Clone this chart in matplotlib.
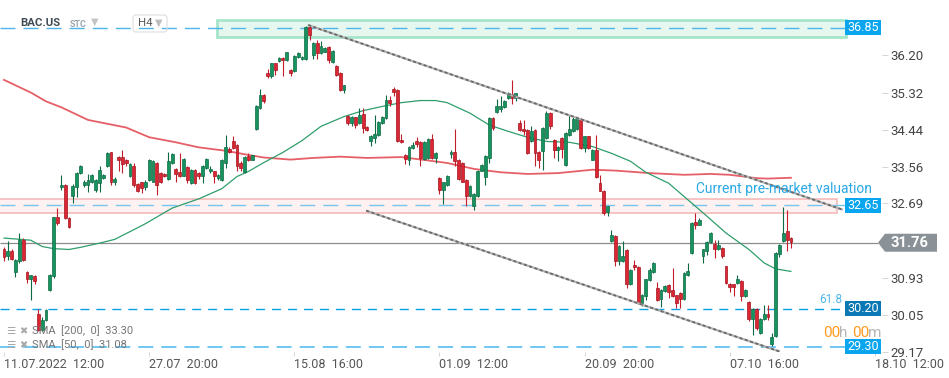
import matplotlib
matplotlib.use("Agg")
import matplotlib.pyplot as plt
from matplotlib.patches import Rectangle, Polygon, FancyBboxPatch
from matplotlib.transforms import IdentityTransform
import numpy as np

plt.rcParams['font.family'] = ['Roboto', 'DejaVu Sans']
plt.rcParams['lines.scale_dashes'] = False

# ---------------- data ----------------
opens = [31.60, 31.44, 31.57, 31.06, 31.32, 31.82, 31.07, 30.90, 30.98, 30.06,
         29.70, 29.94, 30.65, 30.96, 32.37, 33.08, 33.13, 32.35, 32.86, 33.07,
         33.41, 33.13, 33.13, 33.21, 33.02, 33.17, 33.29, 33.57, 33.90, 33.21,
         33.78, 33.79, 33.73, 33.33, 33.58, 33.16, 33.19, 33.09, 33.25, 33.21,
         33.65, 33.41, 33.39, 33.27, 33.65, 33.51, 33.43, 33.35, 33.55, 33.17,
         33.49, 33.41, 33.33, 33.53, 33.45, 33.45, 33.29, 33.25, 33.65, 33.98,
         34.18, 34.07, 33.65, 33.43, 33.82, 33.73, 34.45, 34.96, 35.26, 35.78,
         35.71, 36.01, 36.07, 36.15, 36.09, 35.86, 35.82, 36.17, 36.11, 36.11,
         36.87, 36.20, 36.49, 36.25, 36.29, 36.41, 36.05, 35.95, 35.78, 35.37,
         34.77, 34.59, 34.73, 34.59, 34.81, 34.50, 34.16, 34.24, 34.32, 34.59,
         34.71, 35.15, 35.40, 35.38, 34.20, 33.84, 33.73, 34.00, 34.16, 34.14,
         33.74, 33.77, 34.22, 33.77, 33.29, 33.00, 33.13, 33.86, 33.92, 33.73,
         33.65, 33.25, 32.86, 32.62, 32.87, 33.47, 33.32, 33.77, 34.71, 34.85,
         34.93, 34.97, 35.19, 35.29, 35.19, 34.59, 34.46, 34.44, 34.16, 34.44,
         33.92, 33.94, 34.24, 34.83, 34.20, 33.96, 34.24, 33.61, 34.32, 34.40,
         34.45, 34.69, 34.00, 34.28, 33.73, 33.96, 33.17, 32.99, 32.48, 31.79,
         31.93, 31.32, 31.32, 31.58, 30.77, 31.24, 31.19, 30.32, 30.49, 30.87,
         31.07, 30.69, 30.43, 30.61, 30.76, 30.63, 30.51, 30.57, 30.43, 31.00,
         31.52, 32.24, 32.19, 31.44, 31.56, 31.77, 31.74, 31.60, 31.64, 31.20,
         30.79, 30.77, 30.81, 30.85, 30.49, 30.36, 29.95, 30.19, 29.62, 29.95,
         30.06, 29.35, 29.54, 31.50, 31.79, 32.03, 31.87]
highs = [31.67, 31.79, 31.60, 31.38, 31.99, 31.87, 31.08, 31.00, 31.00, 30.18,
         30.00, 30.19, 31.02, 32.38, 32.58, 33.37, 33.15, 32.37, 33.16, 33.43,
         33.60, 33.25, 33.39, 33.39, 33.26, 33.57, 33.38, 33.92, 33.92, 33.31,
         33.81, 33.96, 33.75, 33.65, 33.66, 33.18, 33.21, 33.25, 33.75, 33.73,
         33.67, 33.43, 33.41, 33.91, 33.89, 33.53, 33.88, 33.76, 33.57, 33.51,
         33.51, 33.43, 33.61, 33.76, 33.59, 33.47, 33.39, 33.75, 34.32, 34.04,
         34.28, 34.09, 33.70, 33.81, 33.88, 33.84, 35.02, 35.40, 35.28, 35.87,
         36.03, 36.03, 36.17, 36.17, 36.29, 35.88, 36.21, 36.27, 36.18, 36.89,
         36.92, 36.51, 36.57, 36.53, 36.39, 36.43, 36.33, 35.97, 35.80, 35.51,
         34.79, 34.77, 34.75, 34.95, 34.95, 34.52, 34.31, 34.79, 34.64, 34.76,
         35.26, 35.23, 35.45, 35.40, 34.34, 33.86, 34.06, 34.14, 34.26, 34.16,
         34.16, 34.24, 34.34, 33.90, 33.31, 33.21, 33.37, 33.96, 34.45, 33.75,
         33.67, 33.27, 33.13, 32.94, 33.49, 33.62, 33.84, 34.73, 34.73, 35.16,
         35.23, 35.14, 35.34, 35.62, 35.32, 34.67, 34.67, 34.46, 34.52, 34.46,
         33.94, 34.51, 34.89, 34.85, 34.22, 34.06, 34.26, 34.38, 34.79, 34.75,
         34.73, 34.71, 34.30, 34.30, 33.98, 34.32, 33.37, 33.01, 32.64, 32.05,
         31.95, 31.71, 31.79, 31.60, 31.13, 31.34, 31.21, 30.54, 30.91, 31.16,
         31.30, 30.82, 30.67, 30.75, 30.78, 31.16, 30.53, 30.59, 31.06, 31.28,
         32.25, 32.46, 32.35, 31.62, 31.79, 32.01, 31.83, 31.83, 31.66, 31.22,
         30.81, 30.79, 31.00, 30.87, 30.67, 30.38, 30.21, 30.21, 29.97, 30.29,
         30.29, 29.62, 31.54, 31.72, 32.61, 32.54, 31.89]
lows = [31.32, 31.36, 31.35, 30.95, 31.28, 31.32, 30.81, 30.41, 30.77, 29.66,
        29.66, 29.90, 30.62, 30.93, 32.19, 33.02, 32.33, 32.11, 32.70, 32.85,
        33.39, 33.09, 32.96, 33.18, 32.97, 32.96, 33.27, 33.55, 33.13, 33.13,
        33.45, 33.41, 33.57, 33.31, 33.09, 32.96, 32.95, 33.02, 33.22, 33.20,
        32.90, 33.17, 33.31, 33.25, 33.62, 33.21, 33.31, 33.33, 33.17, 33.15,
        33.15, 33.27, 33.17, 33.51, 33.41, 33.17, 33.25, 33.23, 33.53, 33.88,
        33.99, 33.45, 33.45, 33.41, 33.69, 33.71, 34.42, 34.94, 35.07, 35.66,
        35.66, 35.74, 36.05, 35.70, 36.07, 35.70, 35.80, 36.15, 36.09, 36.09,
        36.57, 36.11, 36.11, 36.23, 36.27, 36.01, 36.01, 35.72, 35.35, 35.32,
        34.55, 34.52, 34.48, 34.57, 34.37, 34.40, 34.06, 34.12, 34.30, 34.57,
        34.69, 35.00, 35.23, 34.14, 34.12, 33.63, 33.61, 33.98, 34.04, 33.57,
        33.72, 33.75, 33.75, 33.65, 32.92, 32.68, 33.11, 33.77, 33.57, 33.25,
        33.19, 32.62, 32.84, 32.53, 32.85, 33.45, 33.12, 33.65, 34.44, 34.83,
        34.85, 34.95, 35.17, 35.05, 35.11, 34.40, 34.32, 33.86, 34.14, 33.57,
        33.54, 33.49, 34.22, 34.45, 33.77, 33.69, 33.77, 33.59, 34.30, 34.38,
        34.43, 33.98, 33.92, 33.98, 33.71, 33.29, 32.98, 32.41, 32.39, 31.77,
        31.20, 31.24, 31.30, 30.69, 30.75, 31.12, 30.31, 30.25, 30.41, 30.85,
        31.05, 30.39, 30.24, 30.59, 30.45, 30.47, 30.22, 30.22, 30.41, 30.98,
        31.50, 32.09, 32.17, 31.28, 31.48, 31.75, 31.40, 31.58, 31.40, 30.79,
        30.59, 30.49, 30.79, 30.37, 30.47, 29.90, 29.58, 29.70, 29.60, 29.93,
        29.94, 29.31, 29.52, 31.42, 31.77, 31.56, 31.64]
closes = [31.42, 31.57, 31.37, 31.36, 31.83, 31.34, 30.89, 30.99, 30.85, 29.70,
          29.94, 30.16, 30.99, 32.37, 32.23, 33.13, 32.35, 32.13, 33.11, 33.41,
          33.57, 33.20, 33.25, 33.36, 33.24, 33.49, 33.36, 33.88, 33.21, 33.27,
          33.73, 33.63, 33.65, 33.63, 33.13, 32.98, 33.06, 33.21, 33.73, 33.69,
          33.13, 33.21, 33.33, 33.69, 33.87, 33.39, 33.33, 33.74, 33.25, 33.49,
          33.17, 33.33, 33.59, 33.74, 33.51, 33.33, 33.37, 33.73, 34.02, 33.90,
          34.01, 33.58, 33.53, 33.79, 33.73, 33.83, 35.00, 35.26, 35.12, 35.71,
          36.01, 35.86, 36.15, 36.08, 36.27, 35.79, 36.19, 36.25, 36.16, 36.87,
          36.69, 36.49, 36.25, 36.43, 36.37, 36.08, 36.31, 35.74, 35.37, 35.49,
          34.59, 34.75, 34.55, 34.79, 34.48, 34.42, 34.29, 34.34, 34.62, 34.74,
          35.15, 35.08, 35.34, 34.16, 34.14, 33.74, 34.04, 34.08, 34.10, 33.77,
          34.14, 34.22, 33.77, 33.88, 33.00, 33.19, 33.33, 33.91, 33.69, 33.27,
          33.21, 32.86, 33.11, 32.92, 33.47, 33.60, 33.82, 34.71, 34.48, 35.00,
          35.00, 35.12, 35.30, 35.18, 35.30, 34.44, 34.40, 33.88, 34.40, 33.88,
          33.73, 34.49, 34.83, 34.52, 33.96, 34.04, 33.99, 34.36, 34.45, 34.70,
          34.71, 34.00, 34.28, 34.00, 33.96, 33.31, 32.99, 32.46, 32.62, 31.95,
          31.32, 31.69, 31.45, 30.77, 31.11, 31.19, 30.33, 30.52, 30.89, 31.11,
          31.28, 30.41, 30.65, 30.73, 30.59, 30.49, 30.33, 30.43, 31.04, 31.08,
          32.23, 32.19, 32.31, 31.60, 31.77, 31.99, 31.60, 31.71, 31.45, 30.81,
          30.71, 30.71, 30.89, 30.49, 30.65, 29.95, 30.19, 29.74, 29.95, 30.06,
          30.00, 29.52, 31.52, 31.70, 31.99, 31.83, 31.77]

sma200_idx = [0, 7, 11, 15, 22, 32, 38, 45, 51, 58, 64, 68, 75, 81, 88, 95, 104,
              111, 116, 123, 130, 137, 145, 154, 160, 169, 178, 185, 190, 197, 200, 206]
sma200_val = [35.62, 35.32, 35.11, 34.97, 34.67, 34.49, 34.26, 34.14, 34.02, 33.94,
              33.84, 33.78, 33.73, 33.77, 33.80, 33.77, 33.79, 33.71, 33.65, 33.51,
              33.43, 33.39, 33.41, 33.49, 33.47, 33.41, 33.37, 33.39, 33.37, 33.29,
              33.28, 33.30]
sma50_idx = [0, 7, 10, 13, 17, 20, 25, 29, 34, 37, 44, 51, 57, 61, 64, 68, 73, 78,
             83, 89, 94, 99, 104, 109, 113, 116, 122, 127, 132, 137, 142, 148, 154,
             159, 164, 168, 174, 179, 184, 189, 195, 199, 202, 206]
sma50_val = [31.87, 31.82, 31.67, 31.62, 31.60, 31.65, 31.75, 31.84, 32.07, 32.21,
             32.58, 32.80, 33.04, 33.33, 33.45, 33.66, 33.90, 34.18, 34.52, 34.75,
             34.89, 34.99, 35.08, 35.13, 35.13, 35.08, 34.83, 34.55, 34.40, 34.26,
             34.16, 34.14, 34.04, 33.88, 33.69, 33.43, 33.17, 32.78, 32.39, 31.99,
             31.60, 31.28, 31.14, 31.08]

xtick_idx = [0, 38, 76, 114, 152, 190, 228]
xtick_labels = ["11.07.2022  12:00", "27.07  20:00", "15.08  16:00", "01.09  12:00",
                "20.09  20:00", "07.10  16:00", "18.10  12:00"]
ytick_vals = [36.20, 35.32, 34.44, 33.56, 32.69, 30.93, 30.05, 29.17]

resistance_level = 36.85
premarket_level = 32.65
last_price = 31.76
fib_level = 30.20
support_level = 29.30
upper_channel = ([79.6, 219.6], [36.92, 32.54])
lower_channel = ([94.8, 203.1], [32.52, 29.18])

# ---------------- figure ----------------
W, H = 949, 378
fig = plt.figure(figsize=(W / 100, H / 100), dpi=100)
ax_left, ax_right, ax_top, ax_bottom = 0, 882, 0, 352
ax = fig.add_axes([ax_left / W, 1 - ax_bottom / H, (ax_right - ax_left) / W,
                   (ax_bottom - ax_top) / H])
ax.set_xlim(-1.05, 229.84)
ax.set_ylim(29.181, 37.513)
for s in ax.spines.values():
    s.set_visible(False)


def data_pt(xp, yp):
    return ax.transData.inverted().transform((xp, H - yp))


def ypix(v):
    return H - ax.transData.transform((0, v))[1]


def pix_rect(x0, y0, x1, y1, **kw):
    dx0, dyb = data_pt(x0, y1)
    dx1, dyt = data_pt(x1, y0)
    r = Rectangle((dx0, dyb), dx1 - dx0, dyt - dyb, **kw)
    ax.add_patch(r)
    return r


xl = ax.get_xlim()[0]
x_end = data_pt(845, 0)[0]

# zones
pix_rect(217, 20, 846, 37, facecolor='#e6f7f0', edgecolor='#a6e5ca', lw=2.0, zorder=1)
pz = ypix(premarket_level)
pix_rect(-2, pz - 6.5, 837, pz + 7.5, facecolor='#fdf1f1', edgecolor='#f4b4b4', lw=1.1, zorder=1)

# horizontal levels
ax.hlines(resistance_level, xl, x_end, colors='#4cb6ea', lw=1.0, linestyles=(0, (10.8, 5.8)), zorder=2)
ax.hlines(premarket_level, xl, x_end, colors='#74c6ee', lw=1.0, linestyles=(0, (10.8, 5.8)), zorder=2)
ax.hlines(fib_level, xl, x_end, colors='#0aa0e6', lw=1.0, linestyles=(0, (6.5, 5.0)), zorder=2)
ax.hlines(support_level, xl, x_end, colors='#55bdf0', lw=1.2, linestyles=(0, (10.8, 5.8)), zorder=2)
ax.hlines(last_price, xl, data_pt(878, 0)[0], colors='#8c8c8c', lw=0.9, zorder=2, clip_on=False)

# moving averages
ax.plot(sma200_idx, sma200_val, color='#e2434b', lw=1.3, alpha=0.85, zorder=3)
ax.plot(sma50_idx, sma50_val, color='#2f9e6c', lw=0.9, zorder=3)

# candles
o = np.array(opens); h = np.array(highs); l = np.array(lows); c = np.array(closes)
idx = np.arange(len(o))
up = c >= o
green_face, green_edge = '#179360', '#0d6a42'
red_face, red_edge = '#db2733', '#a3141f'
ax.vlines(idx[up], l[up], h[up], colors=green_edge, lw=0.8, zorder=4)
ax.vlines(idx[~up], l[~up], h[~up], colors='#c21d29', lw=0.8, zorder=4)
body_lo = np.minimum(o, c)
body_h = np.maximum(np.abs(c - o), 0.03)
ax.bar(idx[up], body_h[up], bottom=body_lo[up], width=0.74, color=green_face,
       edgecolor=green_edge, lw=0.5, zorder=5)
ax.bar(idx[~up], body_h[~up], bottom=body_lo[~up], width=0.74, color=red_face,
       edgecolor=red_edge, lw=0.5, zorder=5)

# channel lines
for xs, ys in (upper_channel, lower_channel):
    ax.plot(xs, ys, color='#b4b4b4', lw=1.6, zorder=6, solid_capstyle='butt')
    ax.plot(xs, ys, color='#6a6a6a', lw=1.3, linestyle=(0, (2.2, 1.8)), zorder=6)

# ticks
ax.set_xticks(xtick_idx)
ax.set_xticklabels(xtick_labels)
for t in ax.get_xticklabels():
    t.set_horizontalalignment('left')
ax.tick_params(axis='x', length=3, width=0.6, color='#cfcfcf', labelsize=9,
               labelcolor='#555555', pad=1.5)
ax.yaxis.tick_right()
ax.set_yticks(ytick_vals)
ax.set_yticklabels([f"{v:.2f}" for v in ytick_vals])
ax.tick_params(axis='y', length=4, width=0.6, color='#cfcfcf', labelsize=9.5,
               labelcolor='#444444', pad=2)

# price label boxes
def level_box(v, color, text):
    yc = ypix(v)
    pix_rect(845, yc - 7.5, 881, yc + 7.5, facecolor=color, edgecolor='none', zorder=8, clip_on=False)
    ax.text(*data_pt(863, yc), text, color='white', fontsize=9, ha='center', va='center',
            zorder=9, clip_on=False)

level_box(resistance_level, '#0aa5ef', f"{resistance_level:.2f}")
level_box(premarket_level, '#0aa5ef', f"{premarket_level:.2f}")
level_box(fib_level, '#0a78b4', f"{fib_level:.2f}")
level_box(support_level, '#0aa5ef', f"{support_level:.2f}")

# last price arrow label
yc = ypix(last_price)
pts = [data_pt(878, yc), data_pt(885, yc - 9), data_pt(937, yc - 9),
       data_pt(937, yc + 9), data_pt(885, yc + 9)]
ax.add_patch(Polygon(pts, closed=True, facecolor='#8b9297', edgecolor='none', zorder=8, clip_on=False))
ax.text(*data_pt(910, yc), f"{last_price:.2f}", color='white', fontsize=10.5,
        fontweight='bold', ha='center', va='center', zorder=9, clip_on=False)

ax.text(*data_pt(842, ypix(fib_level) - 9), "61.8", color='#4fb6e8', fontsize=8.5,
        ha='right', va='center', zorder=9, clip_on=False)

# annotations
ax.text(*data_pt(696, 189), "Current pre-market valuation", color='#2aa8e6', fontsize=10,
        ha='left', va='center', zorder=9)
for xp, s, col in ((823, "00", '#ff9a1f'), (839, "h", '#b5b5b5'), (852, "00", '#ff9a1f'),
                   (868, "m", '#b5b5b5')):
    ax.text(*data_pt(xp, 333), s, color=col, fontsize=11, ha='left', va='center',
            zorder=9, clip_on=False)

# legend
for yp, s in ((331, "SMA  [200,  0]  33.30"), (345, "SMA  [50,  0]  31.08")):
    ax.text(*data_pt(6, yp), "\u2630", color='#a8a8a8', fontsize=7.5, ha='left', va='center', zorder=9)
    ax.text(*data_pt(19, yp), "\u2716", color='#a8a8a8', fontsize=7, ha='left', va='center', zorder=9)
    ax.text(*data_pt(32, yp), s, color='#767676', fontsize=8, ha='left', va='center', zorder=9)

# header
ax.text(*data_pt(20, 23), "BAC.US", color='#3f4b55', fontsize=8.2, fontweight='bold',
        ha='left', va='center', zorder=9)
ax.text(*data_pt(70, 24), "STC", color='#9aa6ae', fontsize=6.5, fontweight='bold',
        ha='left', va='center', zorder=9)
ax.text(*data_pt(91, 22), "\u25bc", color='#c4c4c4', fontsize=7, ha='left', va='center', zorder=9)
h4box = FancyBboxPatch((133, H - 32), 34, 17, boxstyle='round,pad=0,rounding_size=3',
                       facecolor='none', edgecolor='#dedede', lw=0.8,
                       transform=IdentityTransform(), zorder=8)
fig.add_artist(h4box)
ax.text(*data_pt(138, 23.5), "H4", color='#555555', fontsize=8.2, ha='left', va='center', zorder=9)
ax.text(*data_pt(155, 23), "\u25bc", color='#bdbdbd', fontsize=7, ha='left', va='center', zorder=9)

fig.savefig("out.png", dpi=100)
